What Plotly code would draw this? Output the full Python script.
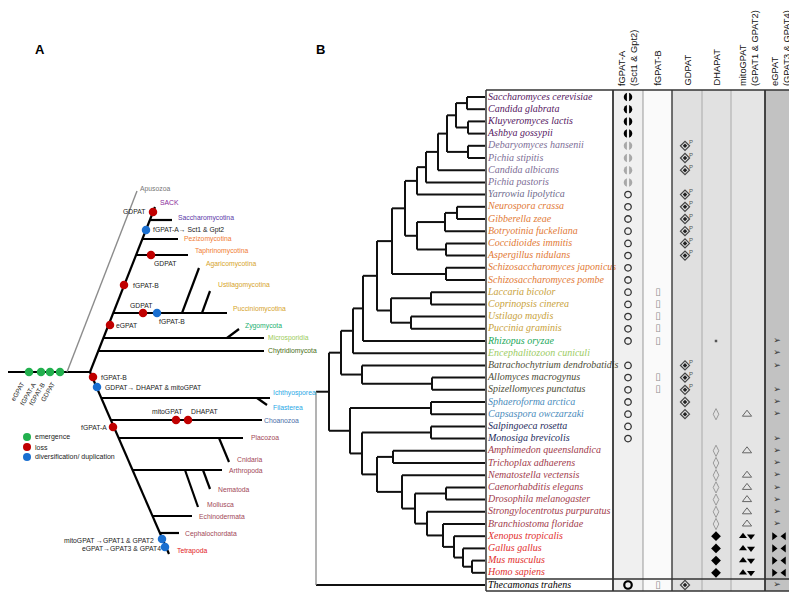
import plotly.graph_objects as go

W, H = 797, 594
PAGE_MARGIN = 8  # browser body margin around the plot div

# ======================= PANEL B DATA =======================
species = ["Saccharomyces cerevisiae", "Candida glabrata", "Kluyveromyces lactis", "Ashbya gossypii",
           "Debaryomyces hansenii", "Pichia stipitis", "Candida albicans", "Pichia pastoris",
           "Yarrowia lipolytica", "Neurospora crassa", "Gibberella zeae", "Botryotinia fuckeliana",
           "Coccidioides immitis", "Aspergillus nidulans", "Schizosaccharomyces japonicus",
           "Schizosaccharomyces pombe", "Laccaria bicolor", "Coprinopsis cinerea", "Ustilago maydis",
           "Puccinia graminis", "Rhizopus oryzae", "Encephalitozoon cuniculi",
           "Batrachochytrium dendrobatidis", "Allomyces macrogynus", "Spizellomyces punctatus",
           "Sphaeroforma arctica", "Capsaspora owczarzaki", "Salpingoeca rosetta", "Monosiga brevicolis",
           "Amphimedon queenslandica", "Trichoplax adhaerens", "Nematostella vectensis",
           "Caenorhabditis elegans", "Drosophila melanogaster", "Strongylocentrotus purpuratus",
           "Branchiostoma floridae", "Xenopus tropicalis", "Gallus gallus", "Mus musculus",
           "Homo sapiens", "Thecamonas trahens"]
species_group = (["sac"] * 4 + ["cug"] * 4 + ["yar"] + ["pez"] * 7 + ["bas"] * 4 + ["zyg", "mic"] +
                 ["chy"] * 3 + ["ich"] * 2 + ["cho"] * 2 + ["met"] * 7 + ["tet"] * 4 + ["out"])
group_colors = {"sac": "#55175f", "cug": "#7d6e96", "yar": "#6e6a8c", "pez": "#e27a36",
                "bas": "#c9a23a", "zyg": "#22a85a", "mic": "#9ccc64", "chy": "#4e4e38",
                "ich": "#4a8cbc", "cho": "#1e2c5c", "met": "#a23c4c", "tet": "#e2302e", "out": "#000000"}

col_headers = ["fGPAT-A<br>(Sct1 & Gpt2)", "fGPAT-B", "GDPAT", "DHAPAT",
               "mitoGPAT<br>(GPAT1 & GPAT2)", "eGPAT<br>(GPAT3 & GPAT4)"]
fgpat_a = ["H"] * 4 + ["h"] * 4 + ["o"] * 13 + [""] + ["o"] * 7 + [""] * 11 + ["O"]
fgpat_b = [""] * 16 + ["r"] * 5 + [""] * 2 + ["r"] * 2 + [""] * 15 + ["r"]
gdpat = [""] * 4 + ["dP"] * 3 + [""] + ["dP"] * 6 + [""] * 8 + ["dP"] * 3 + ["d"] * 2 + [""] * 13 + ["d"]
dhapat = [""] * 20 + ["."] + [""] * 5 + ["v"] + [""] * 2 + ["v"] * 7 + ["D"] * 4 + [""]
mitogpat = [""] * 26 + ["t"] + [""] * 2 + ["t"] + [""] + ["t"] * 5 + ["T"] * 4 + [""]
egpat = [""] * 20 + ["a"] * 3 + [""] + ["a"] * 3 + [""] + ["a"] + ["a"] * 7 + ["A"] * 4 + ["a"]


# cladogram of panel B: (node depth, children); integers are leaf rows
def N(x, *kids):
    return (x, list(kids))


tree_b = N(316,
           N(329,
             N(341,
               N(353,
                 N(363,
                   N(377,
                     N(392,
                       N(405,
                         N(417,
                           N(426,
                             N(438,
                               N(447,
                                 N(456, N(467, 0, 1), N(468, 2, 3)),
                                 N(468, 4, 5)),
                               6),
                             7),
                           8),
                         N(417,
                           N(445, N(457, 9, 10), 11),
                           N(446, 12, 13))),
                       N(446, 14, 15)),
                     N(391, N(431, 16, 17), N(411, 18, 19))),
                   20),
                 21),
               N(362, 22, N(432, 23, 24))),
             N(350,
               N(431, 25, 26),
               N(362,
                 N(431, 27, 28),
                 N(377,
                   N(393, 29, 30),
                   N(402, 31,
                     N(415,
                       N(446, 32, 33),
                       N(427, 34,
                         N(443, 35,
                           N(454, 36,
                             N(463, 37,
                               N(472, 38, 39))))))))))),
           40)

# ======================= PANEL A DATA =======================
fungi_bb = (90, 372, 155, 207)
holo_bb = (90, 372, 169, 554)
# (backbone, attach y, tip x)
a_branches = [("f", 220, 172), ("f", 239, 178), ("f", 255, 188), ("f", 313, 227),
              ("f", 338, 264), ("f", 351, 264),
              ("h", 398, 270), ("h", 420, 262), ("h", 438, 243), ("h", 470, 222),
              ("h", 516, 192), ("h", 533, 179)]
a_twigs = [(182, 313, 199, 268), (202, 313, 210, 291), (227, 338, 239, 329),
           (257, 398, 267, 405), (219, 438, 229, 462), (185, 470, 198, 507), (203, 470, 210, 489)]
a_events = [(29, 372, "g"), (41, 372, "g"), (50, 372, "g"), (60, 372, "g"),
            (153, 212, "r"), (146, 230, "b"), (151, 255, "r"), (124, 285, "r"),
            (143, 313, "r"), (157, 313, "b"), (110, 325, "r"), (93, 377, "r"), (97, 387, "b"),
            (176, 420, "r"), (188, 420, "r"), (113, 427, "r"), (162, 539, "b"), (165, 547, "b")]
dot_colors = {"g": "#22b04e", "r": "#c00000", "b": "#1a6fd0"}

C_GREY, C_PUR, C_SAC, C_ORA, C_GOLD = "#777777", "#8a2a9a", "#5a3aa8", "#f07c34", "#d6a42c"
C_ZYG, C_MIC, C_CHY, C_ICH, C_CHO, C_MET, C_TET = "#22b070", "#9ccc5a", "#4a7020", "#28a8e6", "#4a6ea8", "#a24858", "#e2201e"
a_labels = [("Apusozoa", 138, 189, C_GREY, "left"), ("SACK", 158, 202, C_PUR, "left"),
            ("GDPAT", 147, 211, "#222", "right"), ("Saccharomycotina", 176, 218, C_SAC, "left"),
            ("fGPAT-A→ Sct1 & Gpt2", 151, 230, "#222", "left"), ("Pezizomycotina", 182, 239, C_ORA, "left"),
            ("Taphrinomycotina", 193, 251, C_ORA, "left"), ("GDPAT", 152, 263, "#222", "left"),
            ("Agaricomycotina", 204, 264, C_GOLD, "left"), ("fGPAT-B", 131, 285, "#222", "left"),
            ("Ustilagomycotina", 216, 285, C_GOLD, "left"), ("GDPAT", 128, 305, "#222", "left"),
            ("Pucciniomycotina", 231, 309, C_GOLD, "left"), ("fGPAT-B", 157, 321, "#222", "left"),
            ("eGPAT", 114, 325, "#222", "left"), ("Zygomycota", 243, 326, C_ZYG, "left"),
            ("Microsporidia", 266, 338, C_MIC, "left"), ("Chytridiomycota", 266, 351, C_CHY, "left"),
            ("fGPAT-B", 99, 377, "#222", "left"), ("GDPAT→ DHAPAT & mitoGPAT", 103, 387, "#222", "left"),
            ("Ichthyosporea", 271, 393, C_ICH, "left"), ("Filasterea", 271, 407, C_ICH, "left"),
            ("mitoGPAT", 150, 411, "#222", "left"), ("DHAPAT", 189, 411, "#222", "left"),
            ("Choanozoa", 262, 420, C_CHO, "left"), ("fGPAT-A", 109, 427, "#222", "right"),
            ("Placozoa", 249, 437, C_MET, "left"), ("Cnidaria", 235, 459, C_MET, "left"),
            ("Arthropoda", 227, 471, C_MET, "left"), ("Nematoda", 216, 489, C_MET, "left"),
            ("Mollusca", 205, 504, C_MET, "left"), ("Echinodermata", 197, 516, C_MET, "left"),
            ("Cephalochordata", 183, 534, C_MET, "left"),
            ("mitoGPAT →GPAT1 & GPAT2", 156, 540, "#222", "right"),
            ("eGPAT→GPAT3 & GPAT4", 163, 548, "#222", "right"), ("Tetrapoda", 175, 551, C_TET, "left")]
legend_items = [("emergence", "g"), ("loss", "r"), ("diversification/ duplication", "b")]
root_genes = ["eGPAT", "fGPAT-A", "fGPAT-B", "GDPAT"]

# ======================= BUILD =======================
ROW0, ROWH, LEAF_X = 97, 12.2, 485
col_edges = [486, 613, 643, 672, 702, 731, 765, 795]
col_fill = ["#ffffff", "#f0f0f0", "#fafafa", "#e0e0e0", "#e1e1e1", "#e5e5e5", "#c2c2c2"]
col_edge_style = [("#333", 1.5), ("#333", 1.8), ("#999", 1), ("#444", 1.5), ("#aaa", 1),
                  ("#aaa", 1), ("#333", 1.8), ("#333", 1.5)]


def row_y(i):
    return ROW0 + i * ROWH


fig = go.Figure()
shapes = []
annots = []

# table background
for k in range(7):
    shapes.append(dict(type="rect", xref="x", yref="y", x0=col_edges[k], x1=col_edges[k + 1],
                       y0=90, y1=591, fillcolor=col_fill[k], line=dict(width=0), layer="below"))
for xe, (c, w) in zip(col_edges, col_edge_style):
    shapes.append(dict(type="line", xref="x", yref="y", x0=xe, x1=xe, y0=90, y1=591,
                       line=dict(color=c, width=w)))
for yy in (90, 579, 591):
    shapes.append(dict(type="line", xref="x", yref="y", x0=486, x1=795, y0=yy, y1=yy,
                       line=dict(color="#333", width=1.5)))

# tree B
segs = []
grey_segs = []


def lay(node, is_root=False):
    if isinstance(node, int):
        return row_y(node)
    x, kids = node
    ys = [lay(k) for k in kids]
    for k, yk in zip(kids, ys):
        kx = LEAF_X if isinstance(k, int) else k[0]
        segs.append((x, yk, kx, yk))
    (grey_segs if is_root else segs).append((x, ys[0], x, ys[-1]))
    return (ys[0] + ys[-1]) / 2


lay(tree_b, True)


def seg_xy(sl):
    xs, ys = [], []
    for (x0, y0, x1, y1) in sl:
        xs += [x0, x1, None]
        ys += [y0, y1, None]
    return xs, ys


xs, ys = seg_xy(segs)
fig.add_trace(go.Scatter(x=xs, y=ys, mode="lines", line=dict(color="#111", width=2), hoverinfo="skip"))
xs, ys = seg_xy(grey_segs)
fig.add_trace(go.Scatter(x=xs, y=ys, mode="lines", line=dict(color="#8a8a8a", width=1.3), hoverinfo="skip"))

# species names
fig.add_trace(go.Scatter(x=[488] * len(species), y=[row_y(i) for i in range(len(species))],
                         mode="text", text=species, textposition="middle right",
                         textfont=dict(family="Liberation Serif", size=10, style="italic",
                                       color=[group_colors[g] for g in species_group]),
                         hoverinfo="skip"))

# headers
hdr_x = [628, 657, 687, 716, 749, 781]
for hx, ht in zip(hdr_x, col_headers):
    annots.append(dict(x=hx, y=88, xref="x", yref="y", text=ht, textangle=-90, showarrow=False,
                       xanchor="center", yanchor="bottom", align="left",
                       font=dict(family="Liberation Sans", size=9.3, color="#111")))


def idx(col, code):
    return [i for i, c in enumerate(col) if c == code]


def mk(xv, rows, symbol, size, color, lw=1.0, dx=0, dy=0):
    if not rows:
        return
    fig.add_trace(go.Scatter(x=[xv + dx] * len(rows), y=[row_y(i) + dy for i in rows], mode="markers",
                             marker=dict(symbol=symbol, size=size, color=color,
                                         line=dict(color=color, width=lw)), hoverinfo="skip"))


def tx(xv, rows, text, size, color, dy=0, family="DejaVu Sans"):
    if not rows:
        return
    fig.add_trace(go.Scatter(x=[xv] * len(rows), y=[row_y(i) + dy for i in rows], mode="text",
                             text=[text] * len(rows), textposition="middle center",
                             textfont=dict(family=family, size=size, color=color), hoverinfo="skip"))


# fGPAT-A (split disc drawn as a disc cut by a white bar)
mk(628, idx(fgpat_a, "H"), "circle", 8.5, "#000", 0)
mk(628, idx(fgpat_a, "h"), "circle", 8.5, "#a8a8a8", 0)
mk(628, idx(fgpat_a, "H") + idx(fgpat_a, "h"), "line-ns", 10, "#f0f0f0", 2.2)
mk(628, idx(fgpat_a, "o"), "circle-open", 6.5, "#333", 1.3)
mk(628, idx(fgpat_a, "O"), "circle-open", 7.5, "#000", 2.2)
# fGPAT-B
tx(658, idx(fgpat_b, "r"), "▯", 10, "#8c8c8c")
# GDPAT
rows_d = idx(gdpat, "dP") + idx(gdpat, "d")
mk(685, rows_d, "diamond-open", 7, "#444", 1.2)
mk(685, rows_d, "diamond", 3.5, "#222", 0)
tx(691, idx(gdpat, "dP"), "P", 6, "#555", dy=-3, family="Liberation Sans")
# DHAPAT
mk(716, idx(dhapat, "."), "square", 2.5, "#555", 0)
mk(716, idx(dhapat, "v"), "diamond-tall-open", 8, "#9a9a9a", 1)
mk(716, idx(dhapat, "D"), "diamond", 7.5, "#000", 0)
# mitoGPAT
mk(747, idx(mitogpat, "t"), "triangle-up-open", 8, "#666", 1)
mk(747, idx(mitogpat, "T"), "triangle-up", 7, "#000", 0, dx=-4)
mk(747, idx(mitogpat, "T"), "triangle-down", 7, "#000", 0, dx=4)
# eGPAT
tx(777, idx(egpat, "a"), "➢", 9, "#333")
mk(779, idx(egpat, "A"), "triangle-right", 7, "#000", 0, dx=-5)
mk(779, idx(egpat, "A"), "triangle-left", 7, "#000", 0, dx=5)


# ======================= PANEL A =======================
def bb_x(bb, y):
    x0, y0, x1, y1 = bb
    return x0 + (y - y0) * (x1 - x0) / (y1 - y0)


a_segs = [(3, 372, 90, 372), fungi_bb, holo_bb]
for which, yv, tipx in a_branches:
    bb = fungi_bb if which == "f" else holo_bb
    a_segs.append((bb_x(bb, yv), yv, tipx, yv))
a_segs += a_twigs
xs, ys = seg_xy(a_segs)
fig.add_trace(go.Scatter(x=xs, y=ys, mode="lines", line=dict(color="#000", width=2.2), hoverinfo="skip"))
fig.add_trace(go.Scatter(x=[67, 137], y=[372, 191], mode="lines", line=dict(color="#8c8c8c", width=1.4),
                         hoverinfo="skip"))

fig.add_trace(go.Scatter(x=[e[0] for e in a_events], y=[e[1] for e in a_events], mode="markers",
                         marker=dict(size=8.5, color=[dot_colors[e[2]] for e in a_events], line=dict(width=0)),
                         hoverinfo="skip"))
# legend
fig.add_trace(go.Scatter(x=[27] * 3, y=[437, 447, 457], mode="markers",
                         marker=dict(size=8, color=[dot_colors[c] for _, c in legend_items], line=dict(width=0)),
                         hoverinfo="skip"))
for (lt, _), ly in zip(legend_items, [437, 447, 457]):
    annots.append(dict(x=33, y=ly, xref="x", yref="y", text=lt, showarrow=False, xanchor="left",
                       yanchor="middle", font=dict(family="Liberation Sans", size=7, color="#222")))

for t, x, y, c, anc in a_labels:
    annots.append(dict(x=x, y=y, xref="x", yref="y", text=t, showarrow=False, xanchor=anc,
                       yanchor="middle", font=dict(family="Liberation Sans", size=6.8, color=c)))

for g, e in zip(root_genes, a_events[:4]):
    annots.append(dict(x=e[0] - 1, y=378, xref="x", yref="y", text=g, textangle=-60, showarrow=False,
                       xanchor="right", yanchor="top", font=dict(family="Liberation Sans", size=6.5, color="#222")))

annots.append(dict(x=40, y=49, xref="x", yref="y", text="<b>A</b>", showarrow=False,
                   font=dict(family="Liberation Sans", size=13, color="#000")))
annots.append(dict(x=320, y=49, xref="x", yref="y", text="<b>B</b>", showarrow=False,
                   font=dict(family="Liberation Sans", size=13, color="#000")))

# the plot div sits at the page's body margin, so shift the axes to keep window pixels == data units
fig.update_layout(width=W - PAGE_MARGIN, height=H - PAGE_MARGIN, margin=dict(l=0, r=0, t=0, b=0),
                  showlegend=False, paper_bgcolor="white", plot_bgcolor="white",
                  shapes=shapes, annotations=annots,
                  xaxis=dict(range=[PAGE_MARGIN, W], visible=False, fixedrange=True),
                  yaxis=dict(range=[H, PAGE_MARGIN], visible=False, fixedrange=True))
fig.write_html("out.html")
